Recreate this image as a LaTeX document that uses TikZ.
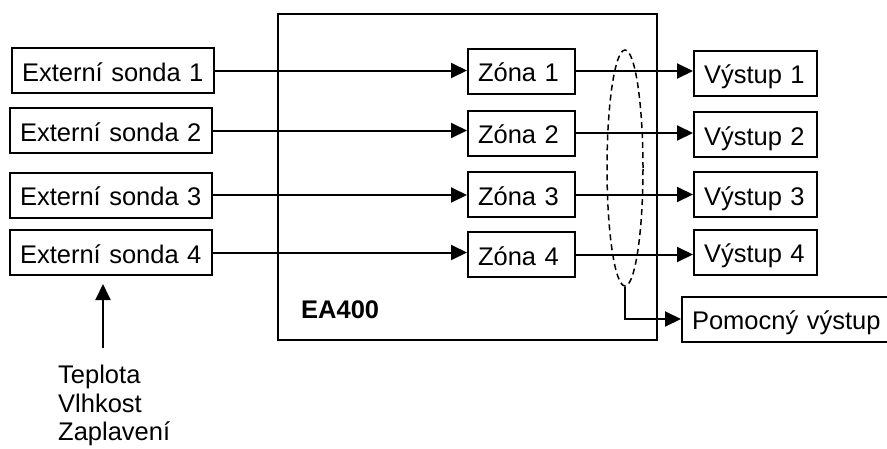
\documentclass[tikz,border=0pt]{standalone}
\usepackage{fontspec}
\setmainfont{Liberation Sans}
\usetikzlibrary{arrows.meta,shapes.geometric}
\newcommand\dfont{\fontsize{25.5}{28.5}\selectfont}
\tikzset{
  box/.style={draw, line width=2pt, inner xsep=10pt, inner ysep=0pt, minimum height=45pt,
    align=left, text height=21pt, text depth=0pt, font=\dfont},
  arr/.style={line width=2pt, -{Triangle[length=16pt,width=15pt]}},
  ln/.style={line width=2pt}
}
\begin{document}
\begin{tikzpicture}[x=1pt,y=1pt]
\useasboundingbox (0,0) rectangle (887,-448);
% main box
\node[draw, line width=2pt, minimum width=379pt, minimum height=326pt, inner sep=0pt] (ea) at (467.5,-177) {};
\node[anchor=west, inner sep=0pt, font=\dfont\bfseries] (lbl) at (301,-310) {EA400};
% sensors
\node[box, text width=182pt] (s1) at (113,-70.5) {Externí sonda 1};
\node[box, text width=182pt] (s2) at (111,-130.5) {Externí sonda 2};
\node[box, text width=182pt] (s3) at (111,-195) {Externí sonda 3};
\node[box, text width=182pt] (s4) at (111,-252.5) {Externí sonda 4};
% zones
\node[box, text width=87pt] (z1) at (521.5,-71) {Zóna 1};
\node[box, text width=87pt] (z2) at (521.5,-133) {Zóna 2};
\node[box, text width=87pt] (z3) at (521.5,-194.5) {Zóna 3};
\node[box, text width=87pt] (z4) at (521.5,-254.5) {Zóna 4};
% outputs
\node[box, text width=103pt] (o1) at (755.5,-73) {Výstup 1};
\node[box, text width=103pt] (o2) at (755.5,-134.5) {Výstup 2};
\node[box, text width=103pt] (o3) at (755.5,-194.5) {Výstup 3};
\node[box, text width=103pt] (o4) at (755.5,-252) {Výstup 4};
\node[box, text width=200pt, anchor=west] (pom) at (681,-319) {Pomocný výstup};
% ellipse
\node[draw, dash pattern=on 6pt off 4pt, line width=1.5pt, ellipse, minimum width=36pt, minimum height=236pt, inner sep=0pt] (ell) at (625,-168) {};
% connectors
\foreach \i in {1,2,3,4}{
  \draw[arr] (s\i.east) -- (s\i.east -| z\i.west);
  \draw[arr] (z\i.east) -- (z\i.east -| o\i.west);
}
\draw[arr] (ell.south) |- (pom.west);
% environment inputs
\node[anchor=north west, inner sep=0pt, align=left, font=\dfont] (tep) at (58,-365) {Teplota\\Vlhkost\\Zaplavení};
\coordinate (tail) at (103,-348);
\draw[arr, shorten >=8pt] (tail) -- (tail |- s4.south);
\end{tikzpicture}
\end{document}
